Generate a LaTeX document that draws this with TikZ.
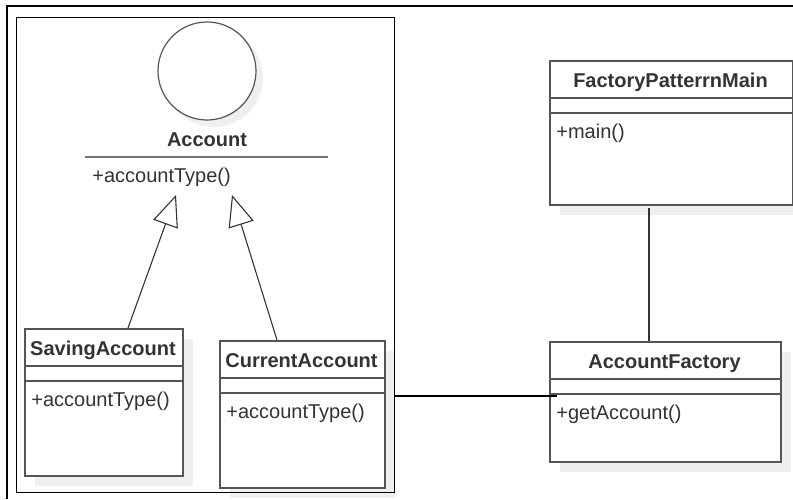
\documentclass[tikz,border=0pt]{standalone}
\usepackage{fontspec}
\setmainfont{Liberation Sans}
\usetikzlibrary{arrows.meta,calc}

\definecolor{umltext}{HTML}{333333}
\definecolor{umlrand}{HTML}{555555}
\definecolor{schatten}{HTML}{EFEFEF}

\tikzset{
	klasse/.style={draw=umlrand, line width=0.8pt, fill=white, anchor=north west, inner sep=0pt},
	trenner/.style={draw=umlrand, line width=0.8pt},
	titel/.style={anchor=base, inner sep=0pt, text=umltext, font=\bfseries},
	methode/.style={anchor=base west, inner sep=0pt, text=umltext},
	erbt/.style={draw=umltext, line width=0.55pt, -{Triangle[open, length=15.5pt, width=13pt]}},
	verbindung/.style={draw=umltext, line width=0.6pt}
}

\begin{document}
\begin{tikzpicture}[x=0.5pt,y=-0.5pt]
	\useasboundingbox (0,0) rectangle (793,499);
	
	% Aeusserer Rahmen
	\draw[line width=1.1pt] (7,499) -- (7,6) -- (793,6);
	
	% Schnittstelle Account (Kreis)
	\fill[schatten] (214,78) circle[radius=24.5pt];
	\node[circle, draw=umlrand, line width=0.6pt, fill=white, inner sep=0pt,
	      minimum size=49pt] (acc) at (207,71) {};
	\node[titel] (acc-t) at (207,146) {Account};
	\draw[draw=umlrand!80, line width=1pt] (85,157) -- (328,157);
	\node[methode] (acc-m) at (92,182) {+accountType()};
	\coordinate (acc-l) at (176,195);
	\coordinate (acc-r) at (232,195);
	
	% Klassen: Name/x/y/Breite/Hoehe/Titel/Methode
	\foreach \n/\x/\y/\w/\h/\t/\m in {
		sav/24/328/158/147/SavingAccount/+accountType(),
		cur/219/340/165/147/CurrentAccount/+accountType(),
		fpm/549/60/243/144/FactoryPatterrnMain/+main(),
		fac/549/341/231/120/AccountFactory/+getAccount()} {
		\fill[schatten] (\x+11,\y+11) rectangle ++(\w,\h);
		\node[klasse, minimum width=\w*0.5pt, minimum height=\h*0.5pt] (\n) at (\x,\y) {};
		\draw[trenner] (\x,\y+38) -- ++(\w,0);
		\draw[trenner] (\x,\y+53) -- ++(\w,0);
		\node[titel] (\n-t) at (\x+\w/2,\y+27) {\t};
		\node[methode] (\n-m) at (\x+7,\y+78) {\m};
	}
	
	% Paketrahmen um die Account-Klassen (ueber den Schatten)
	\node[draw, line width=0.65pt, anchor=north west, inner sep=0pt,
	      minimum width=189pt, minimum height=237.5pt] (paket) at (16,17) {};
	
	% Vererbung
	\draw[erbt] ($(sav.north west)+(104,0)$) -- (acc-l);
	\draw[erbt] ($(cur.north west)+(58,0)$) -- (acc-r);
	
	% Assoziationen
	\coordinate (fpm-aus) at (649,208);
	\draw[verbindung] (fpm-aus) -- (fpm-aus |- fac.north);
	\coordinate (fac-ein) at (557,396);
	\draw[line width=1.1pt] (paket.east |- fac-ein) -- (fac-ein);
\end{tikzpicture}
\end{document}
